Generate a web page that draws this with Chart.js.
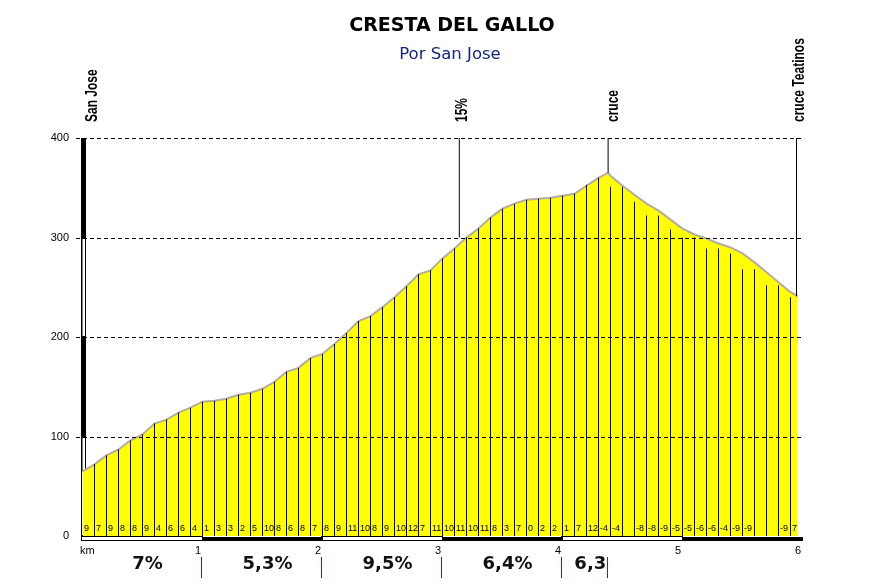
<!DOCTYPE html>
<html><head><meta charset="utf-8">
<script src="https://cdn.jsdelivr.net/npm/chart.js@4.4.1/dist/chart.umd.min.js"></script>
<style>html,body{margin:0;padding:0;background:#fff}canvas{display:block}</style>
</head><body>
<canvas id="c" width="871" height="585"></canvas>
<script>
const chartTitle = "CRESTA DEL GALLO";
const chartSubtitle = "Por San Jose";

// elevation profile (km, metres)
const profileKm = [0,0.1,0.2,0.3,0.4,0.5,0.6,0.7,0.8,0.9,1,1.1,1.2,1.3,1.4,1.5,1.6,1.7,1.8,1.9,2,2.1,2.2,2.3,2.4,2.5,2.6,2.7,2.8,2.9,3,3.1,3.2,3.3,3.4,3.5,3.6,3.7,3.8,3.9,4,4.1,4.2,4.3,4.38,4.4,4.5,4.6,4.7,4.8,4.9,5,5.1,5.2,5.3,5.4,5.5,5.6,5.7,5.8,5.9,5.96];
const profileElev = [65,72,81,87,96,102,113,117,124,129,135,136,138,142,144,148,155,165,169,179,183,193,204,216,221,230,240,251,263,267,279,289,300,309,320,329,334,338,339,340,342,344,352,360,365,362,352,343,334,327,318,309,303,299,294,290,284,275,265,255,245,241];

// 100 m marker lines (km, height of each line)
const tickKm = [0.1,0.2,0.3,0.4,0.5,0.6,0.7,0.8,0.9,1,1.1,1.2,1.3,1.4,1.5,1.6,1.7,1.8,1.9,2,2.1,2.2,2.3,2.4,2.5,2.6,2.7,2.8,2.9,3,3.1,3.2,3.3,3.4,3.5,3.6,3.7,3.8,3.9,4,4.1,4.2,4.3,4.4,4.5,4.6,4.7,4.8,4.9,5,5.1,5.2,5.3,5.4,5.5,5.6,5.7,5.8,5.9];
const tickElev = [72,81,87,96,102,113,117,124,129,135,136,138,142,144,148,155,165,169,179,183,193,204,216,221,230,240,251,263,267,279,289,300,309,320,329,334,338,339,340,342,344,353,360,351,351,336,322,322,308,300,300,289,289,284,268,268,252,252,240];

// gradient per 100 m segment (segment start km = index / 10)
const gradeLabels = ["9","7","9","8","8","9","4","6","6","4",
                     "1","3","3","2","5","10","8","6","8","7",
                     "8","9","11","10","8","9","10","12","7","11",
                     "10","11","10","11","8","3","7","0","2","2",
                     "1","7","12","-4","-4","","-8","-8","-9","-5",
                     "-5","-6","-6","-4","-9","-9","","","-9","7"];

const yTicks = [0,100,200,300,400];
const kmTicks = [1,2,3,4,5,6];

const markerNames = ["San Jose","15%","cruce","cruce Teatinos"];
const markerKm = [0,3.14,4.38,5.95];
const markerElev = [65,300,365,241];

const sectionStart = [0,1,2,3,4];
const sectionEnd = [1,2,3,4,4.38];
const sectionLabels = ["7%","5,3%","9,5%","6,4%","6,3"];

const SANS = "'Liberation Sans', Arial, sans-serif";
const DJ = "'DejaVu Sans', Verdana, sans-serif";
const markerDx = [14, 8, 10, 7.5];

const decor = {
  id: 'decor',
  beforeDatasetsDraw(chart) {
    const {ctx, scales: {y}} = chart;
    ctx.save();
    for (let i = 0; i < yTicks.length - 1; i++) {
      const top = Math.round(y.getPixelForValue(yTicks[i + 1]));
      const bot = Math.round(y.getPixelForValue(yTicks[i]));
      if (i % 2 === 1) {
        ctx.fillStyle = '#000';
        ctx.fillRect(81, top, 5, bot - top);
      } else {
        ctx.strokeStyle = '#000'; ctx.lineWidth = 1;
        ctx.strokeRect(81.5, top + 0.5, 4, bot - top - 1);
      }
    }
    ctx.restore();
  },
  afterDatasetsDraw(chart) {
    const {ctx, scales: {x, y}} = chart;
    ctx.save();
    ctx.strokeStyle = '#000'; ctx.lineWidth = 1; ctx.setLineDash([4, 3]);
    yTicks.forEach(v => {
      if (v === 0) return;
      const py = Math.round(y.getPixelForValue(v)) + 0.5;
      ctx.beginPath(); ctx.moveTo(76, py); ctx.lineTo(803, py); ctx.stroke();
    });
    ctx.setLineDash([]);

    ctx.fillStyle = '#000';
    ctx.textAlign = 'center'; ctx.textBaseline = 'middle';
    ctx.font = "bold 19px " + DJ;
    ctx.fillText(chartTitle, 452, 26);
    ctx.fillStyle = '#14247a';
    ctx.font = "16.5px " + DJ;
    ctx.fillText(chartSubtitle, 450, 55);

    ctx.fillStyle = '#000';
    ctx.font = "11px " + SANS;
    ctx.textAlign = 'right';
    yTicks.forEach(v => ctx.fillText(String(v), 69, y.getPixelForValue(v)));

    for (let k = 0; k < 6; k++) {
      const x0 = Math.round(x.getPixelForValue(k));
      const x1 = Math.round(x.getPixelForValue(k + 1));
      if (k % 2 === 1) {
        ctx.fillStyle = '#000';
        ctx.fillRect(x0, 537, x1 - x0, 4);
      } else {
        ctx.strokeStyle = '#000';
        ctx.strokeRect(x0 - 1.5, 536.5, x1 - x0 + 1, 4);
      }
    }
    ctx.fillStyle = '#000';
    ctx.font = "11px " + SANS;
    ctx.textAlign = 'left';
    ctx.fillText('km', 80, 551);
    ctx.textAlign = 'right';
    kmTicks.forEach(k => ctx.fillText(String(k), x.getPixelForValue(k) - 1.5, 551));

    ctx.font = "9px " + SANS;
    ctx.textAlign = 'left';
    gradeLabels.forEach((g, i) => {
      if (!g) return;
      ctx.fillText(g, Math.floor(x.getPixelForValue(i / 10)) + 2, 529);
    });

    ctx.font = "bold 18px " + DJ;
    ctx.textAlign = 'center';
    ctx.fillStyle = '#111';
    sectionLabels.forEach((s, i) => {
      const cx = (x.getPixelForValue(sectionStart[i]) + x.getPixelForValue(sectionEnd[i])) / 2 + 5;
      ctx.fillText(s, cx, 564);
    });
    ctx.lineWidth = 1;
    sectionEnd.forEach(k => {
      const px = Math.floor(x.getPixelForValue(k)) - 0.5;
      ctx.setLineDash([3, 3]);
      ctx.strokeStyle = '#1a2ab0';
      ctx.lineDashOffset = 0;
      ctx.beginPath(); ctx.moveTo(px, 557); ctx.lineTo(px, 578); ctx.stroke();
      ctx.strokeStyle = '#c01010';
      ctx.lineDashOffset = 3;
      ctx.beginPath(); ctx.moveTo(px, 557); ctx.lineTo(px, 578); ctx.stroke();
    });
    ctx.setLineDash([]);

    ctx.fillStyle = '#000';
    ctx.font = "bold 16px " + SANS;
    ctx.textAlign = 'left'; ctx.textBaseline = 'alphabetic';
    markerNames.forEach((n, i) => {
      const bx = x.getPixelForValue(markerKm[i]) + markerDx[i];
      ctx.save();
      ctx.translate(bx, 122);
      ctx.rotate(-Math.PI / 2);
      ctx.scale(0.75, 1);
      ctx.fillText(n, 0, 0);
      ctx.restore();
    });
    ctx.restore();
  }
};

new Chart(document.getElementById('c'), {
  type: 'line',
  data: {
    datasets: [
      {
        type: 'line',
        data: profileKm.map((k, i) => ({x: k, y: profileElev[i]})),
        fill: 'origin',
        backgroundColor: '#ffff00',
        borderColor: '#b4aca4',
        borderWidth: 2,
        pointRadius: 0,
        tension: 0,
        order: 3
      },
      {
        type: 'bar',
        data: tickKm.map((k, i) => ({x: k, y: tickElev[i]})),
        backgroundColor: '#000',
        barThickness: 1,
        grouped: false,
        inflateAmount: 0,
        order: 2
      },
      {
        type: 'bar',
        data: markerKm.map((k, i) => ({x: k, y: [markerElev[i], 400]})),
        backgroundColor: '#000',
        barThickness: 1,
        grouped: false,
        inflateAmount: 0,
        order: 1
      }
    ]
  },
  options: {
    responsive: false,
    animation: false,
    devicePixelRatio: 1,
    layout: {padding: {left: 82.5, right: 68.5, top: 138, bottom: 49}},
    plugins: {legend: {display: false}, tooltip: {enabled: false}, title: {display: false}},
    scales: {
      x: {type: 'linear', min: 0, max: 6, display: false, offset: false},
      y: {type: 'linear', min: 0, max: 400, display: false}
    }
  },
  plugins: [decor]
});
</script>
</body></html>
